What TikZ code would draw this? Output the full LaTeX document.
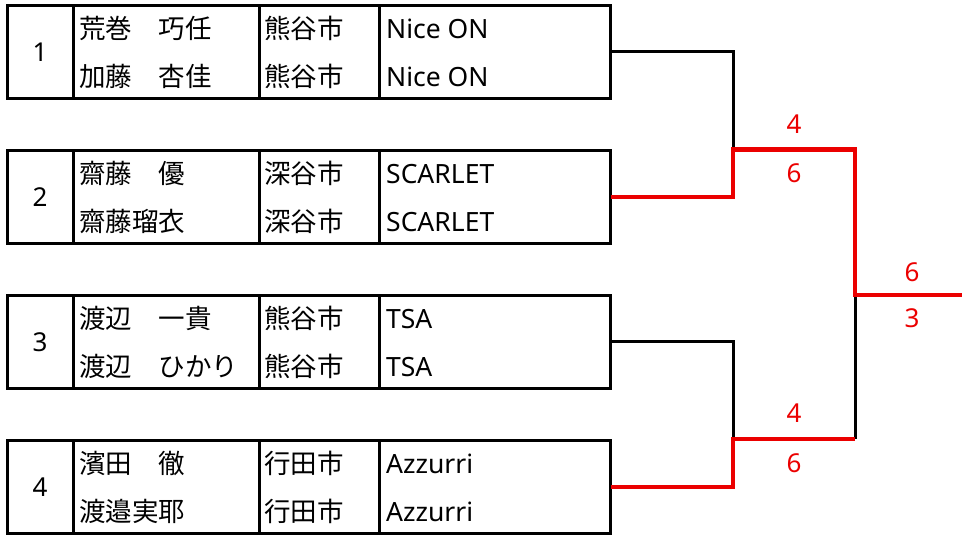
\documentclass[tikz,border=0pt]{standalone}
\usepackage{fontspec}
\setmainfont{Noto Sans}
\newfontfamily\jp{Noto Sans CJK JP}
\definecolor{winred}{RGB}{235,0,0}
\tikzset{
  cell/.style={draw=black, line width=3pt, inner sep=0pt, outer sep=0pt, anchor=north west, minimum height=93.5pt},
  txt/.style={inner sep=0pt, anchor=base west, font=\fontsize{26.5}{26.5}\selectfont},
  jtxt/.style={inner sep=0pt, anchor=base west, font=\fontsize{26.5}{26.5}\selectfont\jp},
  num/.style={inner sep=0pt, anchor=base, font=\fontsize{26}{26}\selectfont},
  score/.style={inner sep=0pt, anchor=base, text=winred, font=\fontsize{26}{26}\selectfont},
  blackline/.style={draw=black, line width=3pt},
  redline/.style={draw=winred, line width=4.2pt},
}
\begin{document}
\begin{tikzpicture}[x=1pt,y=-1pt]
\useasboundingbox (0,0) rectangle (962,539);
\foreach \i/\nm/\na/\nb/\ca/\cb/\ta/\tb in {
  1/1/荒巻　巧任/加藤　杏佳/熊谷市/熊谷市/Nice ON/Nice ON,
  2/2/齋藤　優/齋藤瑠衣/深谷市/深谷市/SCARLET/SCARLET,
  3/3/渡辺　一貴/渡辺　ひかり/熊谷市/熊谷市/TSA/TSA,
  4/4/濱田　徹/渡邉実耶/行田市/行田市/Azzurri/Azzurri}{
  \pgfmathsetmacro{\top}{5+145*(\i-1)}
  \node[cell, minimum width=65.5pt] (n\i) at (7.5,\top) {};
  \node[cell, minimum width=186.5pt] (p\i) at (73,\top) {};
  \node[cell, minimum width=120pt] (c\i) at (259.5,\top) {};
  \node[cell, minimum width=231pt] (t\i) at (379.5,\top) {};
  \node[num] (k\i) at (40,\top+56) {\nm};
  \node[jtxt] (pa\i) at (79,\top+33) {\na};
  \node[jtxt] (pb\i) at (79,\top+81) {\nb};
  \node[jtxt] (ca\i) at (264,\top+33) {\ca};
  \node[jtxt] (cb\i) at (264,\top+81) {\cb};
  \node[txt] (ta\i) at (386,\top+33) {\ta};
  \node[txt] (tb\i) at (386,\top+81) {\tb};
}
\coordinate (j1) at (733,149.5);
\coordinate (j2) at (733,439);
\coordinate (f) at (855,295);
\coordinate (m2) at (855,439);
\coordinate (w) at (962,295);
% black (losing) lines
\draw[blackline] (t1.east) -| (j1);
\draw[blackline] (t3.east) -| (j2);
\draw[blackline] (m2) -- (f);
% red (winning) lines
\draw[redline] (t2.east) -| (j1) -| (f) -- (w);
\draw[redline] (t4.east) -| (j2) -- (m2);
% scores
\node[score] (s1a) at (794,133) {4};
\node[score] (s1b) at (794,182) {6};
\node[score] (s2a) at (794,422) {4};
\node[score] (s2b) at (794,472) {6};
\node[score] (s3a) at (912,281) {6};
\node[score] (s3b) at (912,327) {3};
\end{tikzpicture}
\end{document}
